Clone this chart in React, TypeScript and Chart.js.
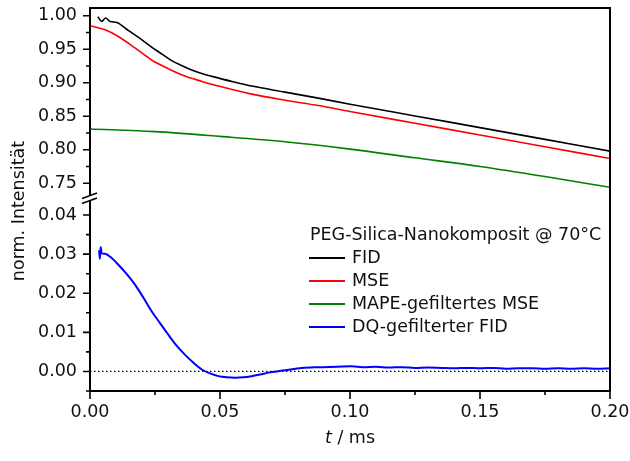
import { useEffect, useRef } from 'react';
import { Chart, registerables } from 'chart.js';

Chart.register(...registerables);

// Time axis in ms, intensities normalised to the FID start value.
const FID_T = [0.003, 0.0045, 0.006, 0.0077, 0.0103, 0.0147, 0.02, 0.0237, 0.028, 0.0314, 0.035, 0.0391, 0.0445, 0.0494, 0.055, 0.0622, 0.075, 0.0878, 0.1, 0.125, 0.15, 0.175, 0.2];
const FID_V = [0.9985, 0.9915, 0.9966, 0.9915, 0.99, 0.978, 0.964, 0.953, 0.942, 0.933, 0.926, 0.919, 0.912, 0.907, 0.9015, 0.895, 0.886, 0.877, 0.868, 0.8505, 0.833, 0.8155, 0.798];

const MSE_T = [0, 0.0058, 0.0109, 0.0173, 0.0237, 0.0301, 0.0365, 0.043, 0.0494, 0.0622, 0.075, 0.0878, 0.1, 0.125, 0.15, 0.175, 0.2];
const MSE_V = [0.985, 0.979, 0.969, 0.952, 0.934, 0.921, 0.91, 0.902, 0.895, 0.883, 0.874, 0.866, 0.857, 0.8395, 0.822, 0.8045, 0.787];

const MAPE_T = [0, 0.025, 0.05, 0.075, 0.1, 0.125, 0.15, 0.175, 0.2];
const MAPE_V = [0.831, 0.827, 0.82, 0.812, 0.801, 0.788, 0.775, 0.76, 0.744];

const DQ_T = [0.0035, 0.0038, 0.0041, 0.0045, 0.0058, 0.008, 0.0109, 0.014, 0.0173, 0.0205, 0.0237, 0.027, 0.0301, 0.0333, 0.0365, 0.0398, 0.043, 0.0462, 0.0494, 0.0526, 0.0558, 0.059, 0.0622, 0.0654, 0.0686, 0.0718, 0.075, 0.0814, 0.0878, 0.095, 0.1006, 0.105, 0.11, 0.115, 0.12, 0.125, 0.13, 0.135, 0.14, 0.145, 0.15, 0.155, 0.16, 0.165, 0.17, 0.175, 0.18, 0.185, 0.19, 0.195, 0.2];
const DQ_V = [0.031, 0.0288, 0.0318, 0.0302, 0.0301, 0.0292, 0.0273, 0.025, 0.0222, 0.0189, 0.0154, 0.0123, 0.0094, 0.0066, 0.0043, 0.0022, 0.0005, -0.0005, -0.0012, -0.0015, -0.0016, -0.0015, -0.0012, -0.0008, -0.0003, 0.0, 0.0003, 0.0009, 0.0011, 0.0012, 0.0013, 0.0011, 0.0012, 0.001, 0.0011, 0.0009, 0.001, 0.0009, 0.0008, 0.0009, 0.0008, 0.0009, 0.0007, 0.0008, 0.0008, 0.0007, 0.0008, 0.0007, 0.0008, 0.0007, 0.0008];

const ZERO_T = [0, 0.2];
const ZERO_V = [0, 0];

const X_MAJOR = [0, 0.05, 0.1, 0.15, 0.2];
const X_MINOR = [0.025, 0.075, 0.125, 0.175];
const Y_HIGH_MAJOR = [0.75, 0.8, 0.85, 0.9, 0.95, 1.0];
const Y_HIGH_MINOR = [0.775, 0.825, 0.875, 0.925, 0.975];
const Y_LOW_MAJOR = [0, 0.01, 0.02, 0.03, 0.04];
const Y_LOW_MINOR = [-0.005, 0.005, 0.015, 0.025, 0.035];

const LEGEND_TITLE = 'PEG-Silica-Nanokomposit @ 70°C';
const SERIES_NAMES = ['FID', 'MSE', 'MAPE-gefiltertes MSE', 'DQ-gefilterter FID'];
const SERIES_COLORS = ['#000000', '#ff0000', '#008000', '#0000ff'];
const Y_TITLE = 'norm. Intensität';
const X_TITLE_VAR = 't';
const X_TITLE_UNIT = ' / ms';

const FONT = '"DejaVu Sans", sans-serif';
const FONT_SIZE = 17.5;
const TEXT_COLOR = '#111111';

const pts = (t: number[], v: number[]) => t.map((x, i) => ({ x, y: v[i] }));

const decorations = {
  id: 'decorations',
  afterDraw(chart: any) {
    const { ctx, chartArea, scales } = chart;
    const { left, right, top, bottom } = chartArea;
    const xs = scales.x;
    const yH = scales.yHigh;
    const yL = scales.yLow;
    const brk = yH.bottom;

    ctx.save();
    ctx.strokeStyle = '#000';
    ctx.lineCap = 'butt';

    // frame: top, right, bottom
    ctx.lineWidth = 2;
    ctx.beginPath();
    ctx.moveTo(left - 1, top);
    ctx.lineTo(right + 1, top);
    ctx.moveTo(right, top);
    ctx.lineTo(right, bottom);
    ctx.moveTo(left - 1, bottom);
    ctx.lineTo(right + 1, bottom);
    // left axis, interrupted at the break
    ctx.moveTo(left, top);
    ctx.lineTo(left, brk - 4);
    ctx.moveTo(left, brk + 1);
    ctx.lineTo(left, bottom);
    ctx.stroke();

    // break marks
    ctx.lineWidth = 1.6;
    ctx.beginPath();
    ctx.moveTo(left - 8, brk - 1);
    ctx.lineTo(left + 7, brk - 6.5);
    ctx.moveTo(left - 8, brk + 4);
    ctx.lineTo(left + 7, brk - 1.5);
    ctx.stroke();

    // tick marks
    ctx.lineWidth = 1.6;
    ctx.beginPath();
    const yTick = (scale: any, v: number, len: number) => {
      const p = scale.getPixelForValue(v);
      ctx.moveTo(left, p);
      ctx.lineTo(left - len, p);
    };
    Y_HIGH_MAJOR.forEach((v) => yTick(yH, v, 7));
    Y_HIGH_MINOR.forEach((v) => yTick(yH, v, 4));
    Y_LOW_MAJOR.forEach((v) => yTick(yL, v, 7));
    Y_LOW_MINOR.forEach((v) => yTick(yL, v, 4));
    const xTick = (v: number, len: number) => {
      const p = xs.getPixelForValue(v);
      ctx.moveTo(p, bottom);
      ctx.lineTo(p, bottom + len);
    };
    X_MAJOR.forEach((v) => xTick(v, 8));
    X_MINOR.forEach((v) => xTick(v, 4));
    ctx.stroke();

    // axis titles
    ctx.fillStyle = TEXT_COLOR;
    ctx.textBaseline = 'middle';
    ctx.font = `${FONT_SIZE}px ${FONT}`;
    ctx.save();
    ctx.translate(19, 211);
    ctx.rotate(-Math.PI / 2);
    ctx.textAlign = 'center';
    ctx.fillText(Y_TITLE, 0, 0);
    ctx.restore();

    ctx.textAlign = 'left';
    ctx.font = `italic ${FONT_SIZE}px ${FONT}`;
    const wVar = ctx.measureText(X_TITLE_VAR).width;
    ctx.font = `${FONT_SIZE}px ${FONT}`;
    const wUnit = ctx.measureText(X_TITLE_UNIT).width;
    const cx = (left + right) / 2;
    const x0 = cx - (wVar + wUnit) / 2;
    ctx.font = `italic ${FONT_SIZE}px ${FONT}`;
    ctx.fillText(X_TITLE_VAR, x0, 438);
    ctx.font = `${FONT_SIZE}px ${FONT}`;
    ctx.fillText(X_TITLE_UNIT, x0 + wVar, 438);

    // legend
    const lx = 310;
    const ly = 235;
    const rowH = 23;
    ctx.fillText(LEGEND_TITLE, lx, ly);
    chart.data.datasets.slice(0, SERIES_NAMES.length).forEach((ds: any, i: number) => {
      const y = ly + rowH * (i + 1);
      ctx.strokeStyle = ds.borderColor;
      ctx.lineWidth = 2;
      ctx.beginPath();
      ctx.moveTo(lx - 1, y);
      ctx.lineTo(lx + 35, y);
      ctx.stroke();
      ctx.fillText(ds.label, lx + 42, y);
    });

    ctx.restore();
  },
};

export default function App() {
  const ref = useRef<HTMLCanvasElement>(null);

  useEffect(() => {
    if (!ref.current) return;
    const line = (label: string, t: number[], v: number[], color: string, axis: string, width: number) => ({
      label,
      data: pts(t, v),
      borderColor: color,
      backgroundColor: color,
      borderWidth: width,
      pointRadius: 0,
      cubicInterpolationMode: 'monotone' as const,
      yAxisID: axis,
    });

    const tickFont = { family: FONT, size: FONT_SIZE };
    const yFit = (s: any) => {
      s.width = 82;
      s.paddingTop = 0;
      s.paddingBottom = 0;
    };

    const chart = new Chart(ref.current, {
      type: 'line',
      data: {
        datasets: [
          line(SERIES_NAMES[0], FID_T, FID_V, SERIES_COLORS[0], 'yHigh', 1.6),
          line(SERIES_NAMES[1], MSE_T, MSE_V, SERIES_COLORS[1], 'yHigh', 1.6),
          line(SERIES_NAMES[2], MAPE_T, MAPE_V, SERIES_COLORS[2], 'yHigh', 1.6),
          line(SERIES_NAMES[3], DQ_T, DQ_V, SERIES_COLORS[3], 'yLow', 2),
          {
            label: 'zero',
            data: pts(ZERO_T, ZERO_V),
            borderColor: '#000',
            borderWidth: 1.2,
            borderDash: [1.5, 2.5],
            pointRadius: 0,
            yAxisID: 'yLow',
          },
        ],
      },
      options: {
        responsive: false,
        animation: false,
        devicePixelRatio: 1,
        layout: { padding: { left: 8, top: 8, right: 20, bottom: 0 } },
        plugins: { legend: { display: false }, tooltip: { enabled: false } },
        scales: {
          x: {
            type: 'linear',
            min: 0,
            max: 0.2,
            grid: { display: false, drawTicks: false },
            border: { display: false },
            afterBuildTicks: (s: any) => { s.ticks = X_MAJOR.map((value) => ({ value })); },
            afterFit: (s: any) => {
              s.height = 70;
              s.paddingLeft = 0;
              s.paddingRight = 0;
            },
            ticks: {
              autoSkip: false,
              maxRotation: 0,
              padding: 11,
              color: TEXT_COLOR,
              font: tickFont,
              callback: (v: any) => Number(v).toFixed(2),
            },
          },
          yLow: {
            type: 'linear',
            position: 'left',
            stack: 'v',
            stackWeight: 1,
            min: -0.005,
            max: 0.04397,
            grid: { display: false, drawTicks: false },
            border: { display: false },
            afterBuildTicks: (s: any) => { s.ticks = Y_LOW_MAJOR.map((value) => ({ value })); },
            afterFit: yFit,
            ticks: {
              autoSkip: false,
              padding: 13,
              color: TEXT_COLOR,
              font: tickFont,
              callback: (v: any) => Number(v).toFixed(2),
            },
          },
          yHigh: {
            type: 'linear',
            position: 'left',
            stack: 'v',
            stackWeight: 1,
            min: 0.7258,
            max: 1.0115,
            grid: { display: false, drawTicks: false },
            border: { display: false },
            afterBuildTicks: (s: any) => { s.ticks = Y_HIGH_MAJOR.map((value) => ({ value })); },
            afterFit: yFit,
            ticks: {
              autoSkip: false,
              padding: 13,
              color: TEXT_COLOR,
              font: tickFont,
              callback: (v: any) => Number(v).toFixed(2),
            },
          },
        },
      },
      plugins: [decorations],
    });

    return () => chart.destroy();
  }, []);

  return (
    <div style={{ position: 'fixed', left: 0, top: 0, width: 630, height: 461, background: '#fff' }}>
      <canvas ref={ref} width={630} height={461} style={{ display: 'block' }} />
    </div>
  );
}
